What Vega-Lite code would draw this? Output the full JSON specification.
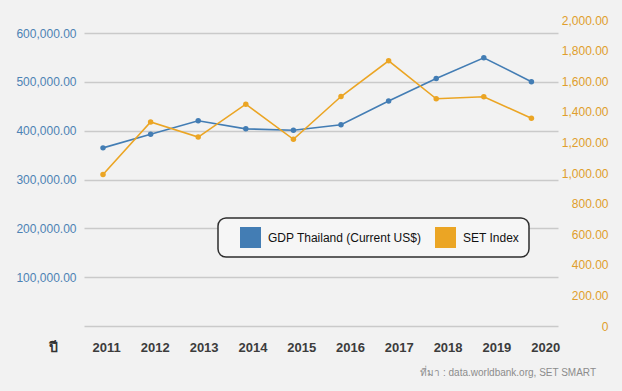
{
  "$schema": "https://vega.github.io/schema/vega-lite/v6.json",
  "width": 474,
  "height": 306,
  "autosize": "none",
  "padding": {"left": 84, "top": 20, "right": 64, "bottom": 65},
  "background": "#f2f2f2",
  "config": {
    "view": {"stroke": null},
    "font": "Liberation Sans",
    "axis": {"labelFont": "Liberation Sans", "titleFont": "Liberation Sans"}
  },
  "title": {
    "text": "ที่มา : data.worldbank.org, SET SMART",
    "orient": "bottom",
    "anchor": "end",
    "frame": "group",
    "dx": 38,
    "offset": 14,
    "fontSize": 10,
    "fontWeight": "normal",
    "color": "#8c8c8c"
  },
  "data": {
    "values": [
      {"year": 2011, "gdp": 365000, "set": 990},
      {"year": 2012, "gdp": 393000, "set": 1334},
      {"year": 2013, "gdp": 420500, "set": 1235},
      {"year": 2014, "gdp": 404000, "set": 1450},
      {"year": 2015, "gdp": 401000, "set": 1220},
      {"year": 2016, "gdp": 412500, "set": 1500},
      {"year": 2017, "gdp": 461000, "set": 1733},
      {"year": 2018, "gdp": 507000, "set": 1485},
      {"year": 2019, "gdp": 549500, "set": 1498},
      {"year": 2020, "gdp": 500500, "set": 1358}
    ]
  },
  "layer": [
    {
      "mark": {"type": "line", "strokeWidth": 1.6, "point": {"filled": true, "size": 30, "opacity": 1}},
      "encoding": {
        "x": {"field": "year", "type": "ordinal", "scale": {"type": "point", "padding": 0.479, "align": 0.417}, "axis": null},
        "y": {
          "field": "gdp", "type": "quantitative",
          "scale": {"domain": [0, 627000], "nice": false, "zero": true},
          "axis": {
            "orient": "left", "values": [100000, 200000, 300000, 400000, 500000, 600000],
            "format": ",.2f", "title": null, "domain": false, "ticks": false,
            "labelPadding": 8, "labelFontSize": 12, "labelColor": "#4d82b4",
            "grid": true, "gridColor": "#cacaca", "gridWidth": 1.5
          }
        },
        "color": {
          "datum": "GDP Thailand (Current US$)",
          "type": "nominal",
          "scale": {"domain": ["GDP Thailand (Current US$)", "SET Index"], "range": ["#437db4", "#eba524"]},
          "legend": {
            "orient": "none", "legendX": 134, "legendY": 198, "direction": "horizontal",
            "title": null, "symbolType": "square", "symbolSize": 441,
            "symbolOffset": 13, "labelOffset": 7,
            "labelFontSize": 12, "labelColor": "#111111", "labelFont": "Liberation Sans",
            "columnPadding": 0, "padding": 9,
            "fillColor": "#f6f6f6", "strokeColor": "#2e2e2e", "cornerRadius": 8,
            "encode": {
              "legend": {"update": {"strokeWidth": {"value": 1.5}}},
              "symbols": {"update": {"fill": {"signal": "scale('color', datum.value)"}, "strokeWidth": {"value": 0}, "opacity": {"value": 1}}}
            }
          }
        }
      }
    },
    {
      "mark": {"type": "line", "strokeWidth": 1.6, "point": {"filled": true, "size": 30, "opacity": 1}},
      "encoding": {
        "x": {"field": "year", "type": "ordinal", "scale": {"type": "point", "padding": 0.479, "align": 0.417}, "axis": null},
        "y": {
          "field": "set", "type": "quantitative",
          "scale": {"domain": [0, 2000], "nice": false},
          "axis": {
            "orient": "right", "values": [0, 200, 400, 600, 800, 1000, 1200, 1400, 1600, 1800, 2000],
            "labelExpr": "datum.value == 0 ? '0' : format(datum.value, ',.2f')",
            "title": null, "domain": false, "ticks": false, "grid": false,
            "labelAlign": "right", "labelPadding": 50, "labelFontSize": 12, "labelColor": "#e09e2c"
          }
        },
        "color": {"datum": "SET Index", "type": "nominal"}
      }
    },
    {
      "mark": {"type": "point", "opacity": 0},
      "encoding": {
        "x": {
          "field": "year", "type": "ordinal",
          "scale": {"type": "point", "padding": 0.357, "align": 0.632},
          "axis": {
            "orient": "bottom", "labelAngle": 0, "ticks": false,
            "domain": true, "domainColor": "#cacaca", "domainWidth": 1.5,
            "labelBaseline": "middle", "labelPadding": 21,
            "labelFontSize": 13, "labelFontWeight": "bold", "labelColor": "#3c3c3c",
            "title": "ปี", "titleAngle": 0, "titleX": -31, "titleY": 21,
            "titleAlign": "center", "titleBaseline": "middle", "titleAnchor": null,
            "titleFontSize": 14, "titleFontWeight": "bold", "titleColor": "#333333"
          }
        }
      }
    }
  ],
  "resolve": {"scale": {"x": "independent", "y": "independent"}}
}
